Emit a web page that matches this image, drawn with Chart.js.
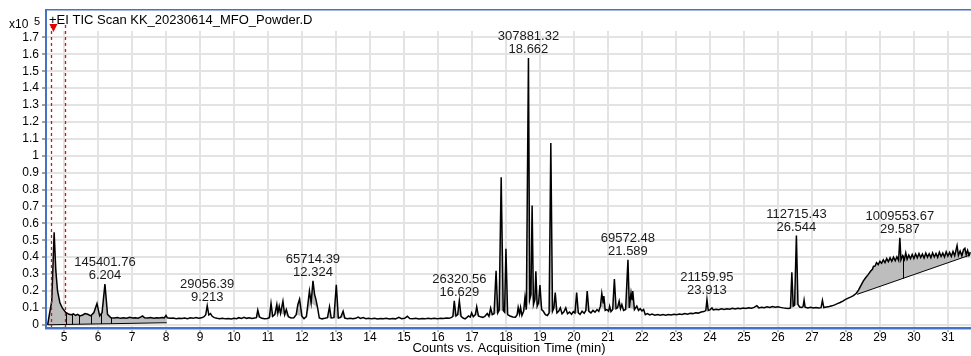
<!DOCTYPE html>
<html>
<head>
<meta charset="utf-8">
<script src="https://cdn.jsdelivr.net/npm/chart.js@4.4.0/dist/chart.umd.min.js"></script>
<style>
html, body { margin: 0; padding: 0; background: #fff; }
</style>
</head>
<body>
<canvas id="tic" width="971" height="356"></canvas>
<script>
// TIC trace, [time (min), counts x10^5] in pieces
const traceEarly = [
  [4.52,0.0],[4.56,0.05],[4.64,0.14],[4.71,0.547],[4.76,0.32],[4.81,0.20],[4.88,0.13],[4.95,0.10],
  [5.05,0.073],[5.15,0.062],[5.22,0.059],[5.28,0.064],[5.34,0.055],[5.40,0.062],[5.47,0.052],[5.55,0.058],
  [5.62,0.066],[5.70,0.062],[5.79,0.053],[5.88,0.072],[5.97,0.126],[6.05,0.053],[6.12,0.072],[6.204,0.241],
  [6.28,0.062],[6.38,0.042],[6.48,0.040],[6.58,0.043],[6.66,0.038],[6.75,0.041],[6.84,0.039],[6.93,0.044],
  [7.02,0.040],[7.10,0.042],[7.18,0.039],[7.25,0.045],[7.31,0.052],[7.37,0.041],[7.46,0.040],[7.55,0.043],
  [7.64,0.039],[7.72,0.042],[7.80,0.040],[7.88,0.043],[7.95,0.041],[8.00,0.055],[8.04,0.041],[8.12,0.038],
  [8.21,0.040],[8.30,0.036],[8.38,0.039],[8.47,0.037],[8.55,0.040],[8.63,0.036],[8.72,0.041],[8.80,0.038],
  [8.88,0.043],[8.96,0.039]
]
const traceLow = [
  [9.05,0.041],[9.12,0.048],[9.17,0.060],[9.213,0.113],[9.26,0.058],[9.31,0.066],[9.36,0.050],[9.42,0.042],
  [9.50,0.038],[9.58,0.036],[9.66,0.039],[9.75,0.035],[9.84,0.037],[9.92,0.034],[10.00,0.038],[10.08,0.036],
  [10.14,0.042],[10.22,0.037],[10.30,0.044],[10.37,0.038],[10.45,0.042],[10.53,0.037],[10.61,0.040],[10.66,0.042],
  [10.70,0.087],[10.75,0.046],[10.82,0.038],[10.90,0.035],[10.98,0.037],[11.04,0.042],[11.09,0.127],[11.14,0.050],
  [11.20,0.060],[11.26,0.120],[11.29,0.070],[11.33,0.110],[11.37,0.068],[11.44,0.140],[11.49,0.060],[11.54,0.090],
  [11.60,0.048],[11.68,0.040],[11.76,0.042],[11.83,0.060],[11.88,0.120],[11.93,0.152],[12.00,0.050],[12.06,0.036],
  [12.13,0.048],[12.22,0.200],[12.27,0.130],[12.324,0.260],[12.37,0.180],[12.41,0.150],[12.46,0.100],[12.51,0.040],
  [12.59,0.035],[12.67,0.038],[12.75,0.042],[12.81,0.107],[12.86,0.040],[12.94,0.042],[13.01,0.237],[13.07,0.040],
  [13.14,0.044],[13.21,0.080],[13.26,0.040],[13.34,0.036],[13.42,0.038],[13.50,0.035],[13.58,0.038],[13.65,0.045],
  [13.72,0.037],[13.80,0.043],[13.88,0.036],[13.96,0.039],[14.05,0.035],[14.14,0.038],[14.22,0.034],[14.31,0.037],
  [14.40,0.035],[14.48,0.038],[14.57,0.034],[14.66,0.037],[14.75,0.035],[14.85,0.044],[14.93,0.036],[15.02,0.038],
  [15.10,0.050],[15.17,0.037],[15.26,0.035],[15.35,0.038],[15.44,0.034],[15.53,0.037],[15.62,0.035],[15.71,0.039],
  [15.80,0.036],[15.89,0.038],[15.98,0.035],[16.07,0.039],[16.16,0.037],[16.25,0.040],[16.33,0.038]
]
const traceMain = [
  [16.40,0.044],[16.44,0.050],[16.48,0.142],[16.53,0.052],[16.58,0.060],[16.629,0.142],[16.68,0.050],[16.74,0.040],
  [16.80,0.035],[16.86,0.045],[16.90,0.052],[16.95,0.045],[16.99,0.070],[17.04,0.048],[17.10,0.060],[17.14,0.107],
  [17.19,0.052],[17.25,0.048],[17.32,0.044],[17.38,0.050],[17.45,0.066],[17.50,0.050],[17.55,0.099],[17.60,0.060],
  [17.65,0.065],[17.71,0.320],[17.76,0.070],[17.80,0.085],[17.86,0.872],[17.92,0.085],[17.96,0.075],[18.00,0.449],
  [18.05,0.060],[18.12,0.052],[18.20,0.046],[18.28,0.045],[18.33,0.060],[18.36,0.103],[18.40,0.065],[18.43,0.103],
  [18.47,0.055],[18.52,0.080],[18.56,0.162],[18.60,0.090],[18.662,1.578],[18.70,0.150],[18.735,0.180],[18.77,0.705],
  [18.81,0.120],[18.85,0.150],[18.88,0.316],[18.92,0.110],[18.96,0.130],[19.00,0.235],[19.05,0.090],[19.10,0.080],
  [19.16,0.060],[19.22,0.055],[19.27,0.070],[19.32,1.075],[19.37,0.080],[19.41,0.100],[19.45,0.190],[19.50,0.070],
  [19.55,0.080],[19.60,0.100],[19.65,0.065],[19.70,0.075],[19.76,0.100],[19.81,0.065],[19.87,0.075],[19.93,0.062],
  [19.98,0.078],[20.03,0.070],[20.08,0.190],[20.13,0.070],[20.18,0.062],[20.24,0.080],[20.30,0.068],[20.35,0.085],
  [20.39,0.200],[20.44,0.080],[20.50,0.070],[20.56,0.085],[20.62,0.075],[20.68,0.090],[20.73,0.080],[20.78,0.110],
  [20.82,0.185],[20.86,0.130],[20.88,0.170],[20.92,0.085],[20.97,0.090],[21.02,0.080],[21.05,0.110],[21.09,0.078],
  [21.14,0.090],[21.19,0.270],[21.24,0.095],[21.28,0.100],[21.33,0.140],[21.37,0.095],[21.41,0.120],[21.46,0.085],
  [21.52,0.090],[21.589,0.384],[21.63,0.100],[21.68,0.190],[21.71,0.150],[21.73,0.200],[21.78,0.090],[21.85,0.110],
  [21.90,0.085],[21.95,0.095],[22.00,0.082],[22.05,0.090]
]
const traceLate = [
  [22.10,0.060],[22.16,0.066],[22.23,0.058],[22.30,0.063],[22.38,0.057],[22.46,0.061],[22.54,0.056],[22.62,0.060],
  [22.70,0.057],[22.78,0.061],[22.86,0.058],[22.94,0.062],[23.02,0.059],[23.10,0.063],[23.18,0.061],[23.26,0.066],
  [23.34,0.063],[23.42,0.068],[23.50,0.066],[23.58,0.071],[23.66,0.069],[23.74,0.075],[23.82,0.078],[23.88,0.084],
  [23.913,0.150],[23.95,0.085],[24.00,0.088],[24.06,0.100],[24.10,0.088],[24.18,0.092],[24.26,0.089],[24.34,0.094],
  [24.42,0.091],[24.50,0.095],[24.58,0.092],[24.66,0.097],[24.74,0.094],[24.82,0.098],[24.90,0.095],[24.98,0.099],
  [25.06,0.097],[25.14,0.101],[25.22,0.098],[25.30,0.103],[25.38,0.113],[25.44,0.100],[25.52,0.104],[25.60,0.101],
  [25.68,0.106],[25.76,0.102],[25.84,0.108],[25.92,0.104],[26.00,0.107],[26.08,0.103],[26.16,0.100],[26.24,0.098],
  [26.32,0.097],[26.37,0.100],[26.41,0.310],[26.45,0.110],[26.49,0.115],[26.544,0.528],[26.59,0.120],[26.64,0.105],
  [26.70,0.102],[26.74,0.108],[26.77,0.146],[26.80,0.104],[26.88,0.100],[26.96,0.103],[27.04,0.099],[27.12,0.102],
  [27.20,0.099],[27.27,0.101],[27.31,0.145],[27.35,0.102],[27.43,0.105],[27.51,0.108],[27.59,0.112],[27.67,0.118],
  [27.75,0.125],[27.83,0.132],[27.91,0.140],[27.99,0.150]
]
const traceRamp = [
  [28.07,0.158],[28.15,0.165],[28.22,0.172],[28.30,0.185],[28.37,0.205],[28.44,0.232],[28.51,0.258],[28.58,0.278],
  [28.66,0.298],[28.73,0.318],[28.78,0.328],[28.81,0.345],[28.86,0.348],[28.90,0.368],[28.95,0.356],[29.00,0.375],
  [29.05,0.364],[29.10,0.384],[29.15,0.368],[29.20,0.392],[29.25,0.374],[29.30,0.396],[29.35,0.376],[29.40,0.400],
  [29.45,0.379],[29.50,0.402],[29.55,0.381],[29.587,0.514],[29.62,0.384],[29.67,0.409],[29.72,0.386],[29.76,0.425],
  [29.80,0.388],[29.85,0.412],[29.90,0.391],[29.95,0.416],[30.00,0.392],[30.05,0.419],[30.10,0.396],[30.15,0.422],
  [30.20,0.398],[30.25,0.418],[30.30,0.395],[30.35,0.424],[30.40,0.400],[30.45,0.420],[30.50,0.397],[30.55,0.426],
  [30.60,0.401],[30.65,0.422],[30.70,0.399],[30.75,0.429],[30.80,0.404],[30.85,0.424],[30.90,0.401],[30.95,0.432],
  [31.00,0.406],[31.05,0.428],[31.10,0.404],[31.15,0.434],[31.20,0.408],[31.27,0.468],[31.31,0.411],[31.36,0.436],
  [31.41,0.408],[31.46,0.444],[31.50,0.452],[31.54,0.414],[31.58,0.440],[31.62,0.411],[31.66,0.430]
]
const trace = [].concat(traceEarly, traceLow, traceMain, traceLate, traceRamp)

// axes
const xTickValues = [5,6,7,8,9,10,11,12,13,14,15,16,17,18,19,20,21,22,23,24,25,26,27,28,29,30,31]
const yTickValues = [0,0.1,0.2,0.3,0.4,0.5,0.6,0.7,0.8,0.9,1,1.1,1.2,1.3,1.4,1.5,1.6,1.7]
const yTickLabels = ['0','0.1','0.2','0.3','0.4','0.5','0.6','0.7','0.8','0.9','1','1.1','1.2','1.3','1.4','1.5','1.6','1.7']

// labelled peaks: retention time and area
const peakTimes = [6.204, 9.213, 12.324, 16.629, 18.662, 21.589, 23.913, 26.544, 29.587]
const peakAreas = ['145401.76','29056.39','65714.39','26320.56','307881.32','69572.48','21159.95','112715.43','1009553.67']

// integrations drawn to an explicit baseline
const baseFillFrom = [4.52, 28.33]
const baseFillTo = [8.02, 31.66]
const baseFillStartLevel = [0.0, 0.18]
const baseFillEndLevel = [0.012, 0.413]
const dividerTimes = [5.06, 5.25, 5.45, 5.79, 6.09, 6.38, 29.67]

// small integrated peaks (drop to chord)
const peakFillFrom = [10.66,11.04,11.20,11.29,11.37,11.49,11.83,12.13,12.27,12.75,12.94,13.14,16.44,16.58,17.10,17.50,17.65,17.80,17.96,18.33,18.40,18.52,18.60,18.735,18.85,18.96,19.27,19.41,20.03,20.35,20.78,21.14,21.28,21.52,21.63,26.37,26.49]
const peakFillTo   = [10.75,11.14,11.29,11.37,11.49,11.60,12.00,12.27,12.46,12.86,13.07,13.26,16.53,16.68,17.19,17.60,17.76,17.92,18.05,18.40,18.47,18.60,18.70,18.81,18.92,19.05,19.37,19.50,20.13,20.44,20.92,21.24,21.37,21.63,21.78,26.45,26.59]

// red integration markers
const markerTimes = [4.61, 5.03]
const markerApex = 4.69

const title = '+EI TIC Scan KK_20230614_MFO_Powder.D'
const FONT = 'Arial, "Liberation Sans", sans-serif'

function traceAt(t) {
    for (let i = 1; i < trace.length; i++) {
        if (trace[i][0] >= t) {
            let a = trace[i - 1], b = trace[i]
            return a[1] + (b[1] - a[1]) * (t - a[0]) / (b[0] - a[0])
        }
    }
    return trace[trace.length - 1][1]
}

function baseAt(t) {
    for (let i = 0; i < baseFillFrom.length; i++) {
        if (t >= baseFillFrom[i] && t <= baseFillTo[i]) {
            let f = (t - baseFillFrom[i]) / (baseFillTo[i] - baseFillFrom[i])
            return baseFillStartLevel[i] + f * (baseFillEndLevel[i] - baseFillStartLevel[i])
        }
    }
    return 0
}

const decor = {
    id: 'decor',
    beforeDatasetsDraw(chart) {
        const {ctx, chartArea: a, scales: {x, y}} = chart
        const px = v => x.getPixelForValue(v), py = v => y.getPixelForValue(v)
        ctx.save()
        ctx.beginPath()
        ctx.rect(a.left, a.top, a.right - a.left, a.bottom - a.top)
        ctx.clip()

        // grey area between trace and baseline
        let area = (t0, t1, b0, b1) => {
            ctx.beginPath()
            ctx.moveTo(px(t0), py(traceAt(t0)))
            for (let p of trace) {
                if (p[0] > t0 && p[0] < t1) ctx.lineTo(px(p[0]), py(p[1]))
            }
            ctx.lineTo(px(t1), py(traceAt(t1)))
            ctx.lineTo(px(t1), py(b1))
            ctx.lineTo(px(t0), py(b0))
            ctx.closePath()
            ctx.fill()
        }
        ctx.fillStyle = '#bdbdbd'
        peakFillFrom.forEach((t0, i) => area(t0, peakFillTo[i], traceAt(t0), traceAt(peakFillTo[i])))
        baseFillFrom.forEach((t0, i) => area(t0, baseFillTo[i], baseFillStartLevel[i], baseFillEndLevel[i]))

        ctx.strokeStyle = '#000'
        ctx.lineWidth = 1
        baseFillFrom.forEach((t0, i) => {
            ctx.beginPath()
            ctx.moveTo(px(t0), py(baseFillStartLevel[i]))
            ctx.lineTo(px(baseFillTo[i]), py(baseFillEndLevel[i]))
            ctx.stroke()
        })
        for (let t of dividerTimes) {
            ctx.beginPath()
            ctx.moveTo(Math.round(px(t)) + 0.5, py(traceAt(t)))
            ctx.lineTo(Math.round(px(t)) + 0.5, py(baseAt(t)))
            ctx.stroke()
        }
        ctx.restore()
    },
    afterDatasetsDraw(chart) {
        const {ctx, chartArea: a, scales: {x, y}} = chart
        const px = v => x.getPixelForValue(v), py = v => y.getPixelForValue(v)
        ctx.save()
        // peak annotations
        ctx.font = '13px ' + FONT
        ctx.fillStyle = '#1a1a1a'
        ctx.textAlign = 'center'
        ctx.textBaseline = 'middle'
        peakTimes.forEach((t, i) => {
            let top = py(traceAt(t)) - 8.5
            ctx.fillText(peakAreas[i], px(t), top - 13)
            ctx.fillText(t.toFixed(3), px(t), top)
        })
        // red markers
        ctx.strokeStyle = '#ff0000'
        ctx.lineWidth = 1.3
        ctx.setLineDash([3, 3])
        for (let t of markerTimes) {
            ctx.beginPath()
            ctx.moveTo(Math.round(px(t)) + 0.5, 25)
            ctx.lineTo(Math.round(px(t)) + 0.5, a.bottom)
            ctx.stroke()
        }
        ctx.setLineDash([])
        ctx.fillStyle = '#e00000'
        let mx = px(markerApex)
        ctx.beginPath()
        ctx.moveTo(mx - 4, 24)
        ctx.lineTo(mx + 4, 24)
        ctx.lineTo(mx, 32)
        ctx.closePath()
        ctx.fill()
        ctx.restore()
    },
    afterDraw(chart) {
        const {ctx, width} = chart
        ctx.save()
        // blue frame
        ctx.fillStyle = '#4472c4'
        ctx.fillRect(45, 9, width - 45, 1.5)
        ctx.fillRect(45, 9, 2, 321)
        ctx.fillRect(45, 327, width - 45, 2)
        ctx.fillStyle = '#a9bfe6'
        ctx.fillRect(45, 329, width - 45, 1)
        // title and exponent
        ctx.fillStyle = '#000'
        ctx.textAlign = 'left'
        ctx.textBaseline = 'alphabetic'
        ctx.font = '13px ' + FONT
        ctx.fillText(title, 49, 24)
        ctx.font = '12px ' + FONT
        ctx.fillText('x10', 9, 28)
        ctx.font = '11px ' + FONT
        ctx.fillText('5', 34, 25)
        ctx.restore()
    }
}

Chart.defaults.font.family = FONT
Chart.defaults.color = '#000'

let ctx = document.getElementById('tic')
let chart = new Chart(ctx, {
    type: 'line',
    data: {
        datasets: [{
            data: trace.map(p => ({x: p[0], y: p[1]})),
            borderColor: '#000',
            borderWidth: 1.5,
            pointRadius: 0,
            tension: 0,
            fill: false
        }]
    },
    options: {
        responsive: false,
        animation: false,
        layout: {padding: {top: 31, left: 0, right: 0, bottom: 0}},
        scales: {
            x: {
                type: 'linear',
                min: 4.5,
                max: 31.68,
                afterBuildTicks: s => { s.ticks = xTickValues.map(v => ({value: v})) },
                afterFit: s => { s.height = 27 },
                ticks: {autoSkip: false, maxRotation: 0, padding: -2, font: {size: 12}, callback: v => String(v)},
                grid: {color: '#e3e3e3', lineWidth: 2, tickLength: 3, tickColor: '#777', tickWidth: 1},
                border: {display: false},
                title: {display: true, text: 'Counts vs. Acquisition Time (min)', font: {size: 13}, padding: {top: 0, bottom: 0}}
            },
            y: {
                min: -0.025,
                max: 1.738,
                afterBuildTicks: s => { s.ticks = yTickValues.map(v => ({value: v})) },
                afterFit: s => { s.width = 47 },
                ticks: {autoSkip: false, padding: 3, font: {size: 12}, callback: (v, i) => yTickLabels[i]},
                grid: {color: '#e3e3e3', lineWidth: 2, tickLength: 5, tickColor: '#444', tickWidth: 1},
                border: {display: false}
            }
        },
        plugins: {
            legend: {display: false},
            tooltip: {enabled: false}
        }
    },
    plugins: [decor]
})
</script>
</body>
</html>
